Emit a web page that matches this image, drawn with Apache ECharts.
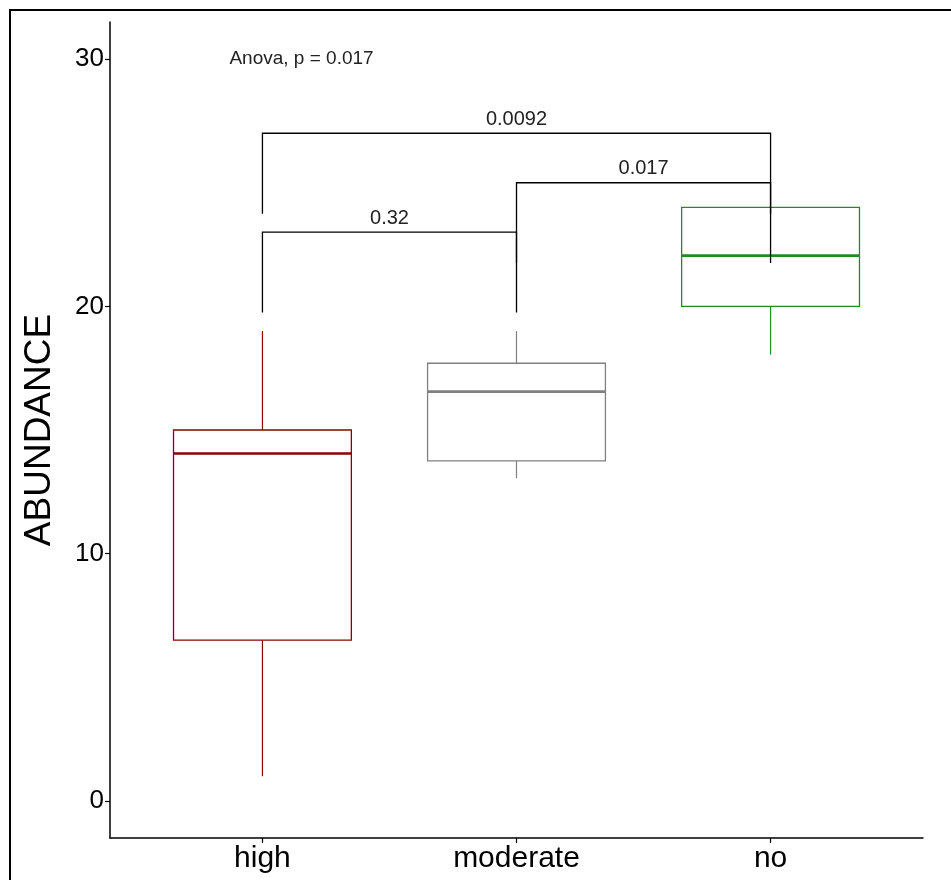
<!DOCTYPE html>
<html>
<head>
<meta charset="utf-8">
<script src="https://cdn.jsdelivr.net/npm/echarts@6/dist/echarts.min.js"></script>
<style>
  html, body { margin: 0; padding: 0; background: #fff; }
  #main { width: 951px; height: 880px; }
</style>
</head>
<body>
<div id="main"></div>
<script>
// groups and box statistics
const categories = ["high", "moderate", "no"];
const whiskerLow = [1.0, 13.05, 18.05];
const q1 = [6.5, 13.75, 20.0];
const medians = [14.05, 16.55, 22.05];
const q3 = [15.0, 17.7, 24.0];
const whiskerHigh = [19.0, 19.0, 24.0];

// pairwise comparisons: [group a, group b, bracket height, p label]
const pairs = [
  [1, 2, 23.0, "0.32"],
  [2, 3, 25.0, "0.017"],
  [1, 3, 27.0, "0.0092"]
];
const tipLength = 3.25;
const anovaText = "Anova, p = 0.017";
const yTicks = [0, 10, 20, 30];

const boxColors = ["#8B0000", "#808080", "#228B22"];
const boxWidth = 0.7;
const font = "'Liberation Sans', Arial, sans-serif";

const boxData = categories.map((c, i) => [i + 1, whiskerLow[i], q1[i], medians[i], q3[i], whiskerHigh[i]]);

function renderBox(params, api) {
  const x = api.value(0);
  const lo = api.coord([x, api.value(1)]);
  const b = api.coord([x, api.value(2)]);
  const m = api.coord([x, api.value(3)]);
  const t = api.coord([x, api.value(4)]);
  const hi = api.coord([x, api.value(5)]);
  const half = api.size([boxWidth, 0])[0] / 2;
  const color = boxColors[params.dataIndex];
  return {
    type: "group",
    children: [
      { type: "line", shape: { x1: lo[0], y1: lo[1], x2: b[0], y2: b[1] }, style: { stroke: color, lineWidth: 1.2 } },
      { type: "line", shape: { x1: t[0], y1: t[1], x2: hi[0], y2: hi[1] }, style: { stroke: color, lineWidth: 1.2 } },
      { type: "rect", shape: { x: t[0] - half, y: t[1], width: half * 2, height: b[1] - t[1] }, style: { fill: "#fff", stroke: color, lineWidth: 1.3 } },
      { type: "line", shape: { x1: m[0] - half, y1: m[1], x2: m[0] + half, y2: m[1] }, style: { stroke: color, lineWidth: 2.6 } }
    ]
  };
}

function renderBracket(params, api) {
  const a = api.value(0), b = api.value(1), h = api.value(2);
  const p1 = api.coord([a, h - tipLength]);
  const p2 = api.coord([a, h]);
  const p3 = api.coord([b, h]);
  const p4 = api.coord([b, h - tipLength]);
  return {
    type: "group",
    children: [
      { type: "polyline", shape: { points: [p1, p2, p3, p4] }, style: { stroke: "#000", lineWidth: 1.3, fill: null } },
      { type: "text", style: { text: pairs[params.dataIndex][3], x: (p2[0] + p3[0]) / 2, y: p2[1] - 4, textAlign: "center", textVerticalAlign: "bottom", fontSize: 20, fontFamily: font, fill: "#222" } }
    ]
  };
}

function renderAnova(params, api) {
  const p = api.coord([api.value(0), api.value(1)]);
  return { type: "text", style: { text: anovaText, x: p[0], y: p[1], textAlign: "left", textVerticalAlign: "middle", fontSize: 19, fontFamily: font, fill: "#222" } };
}

const chart = echarts.init(document.getElementById("main"));
chart.setOption({
  backgroundColor: "#fff",
  animation: false,
  grid: { left: 110, right: 28, top: 22, bottom: 42 },
  xAxis: {
    type: "value",
    min: 0.4,
    max: 3.6,
    splitLine: { show: false },
    axisLine: { show: true, onZero: false, lineStyle: { color: "#000", width: 1.5 } },
    axisTick: { show: true, length: 5, customValues: [1, 2, 3], lineStyle: { color: "#000", width: 1.2 } },
    axisLabel: { customValues: [1, 2, 3], formatter: v => categories[Math.round(v) - 1], fontSize: 30, color: "#000", fontFamily: font, margin: 6 }
  },
  yAxis: {
    type: "value",
    min: -1.5,
    max: 31.5,
    name: "ABUNDANCE",
    nameLocation: "middle",
    nameRotate: 90,
    nameGap: 52,
    nameTextStyle: { fontSize: 37, color: "#000", fontFamily: font },
    splitLine: { show: false },
    axisLine: { show: true, onZero: false, lineStyle: { color: "#000", width: 1.5 } },
    axisTick: { show: true, length: 5, customValues: yTicks, lineStyle: { color: "#000", width: 1.2 } },
    axisLabel: { customValues: yTicks, fontSize: 26, color: "#000", fontFamily: font, margin: 6 }
  },
  graphic: [
    { type: "rect", shape: { x: 10, y: 10, width: 1000, height: 1000 }, style: { fill: null, stroke: "#000", lineWidth: 2 }, silent: true }
  ],
  series: [
    { type: "custom", renderItem: renderBox, data: boxData, clip: false, encode: { x: 0, y: [1, 2, 3, 4, 5] } },
    { type: "custom", renderItem: renderBracket, data: pairs.map(p => [p[0], p[1], p[2]]), clip: false, encode: { x: [0, 1], y: 2 } },
    { type: "custom", renderItem: renderAnova, data: [[0.87, 30]], clip: false, encode: { x: 0, y: 1 } }
  ]
});
</script>
</body>
</html>
